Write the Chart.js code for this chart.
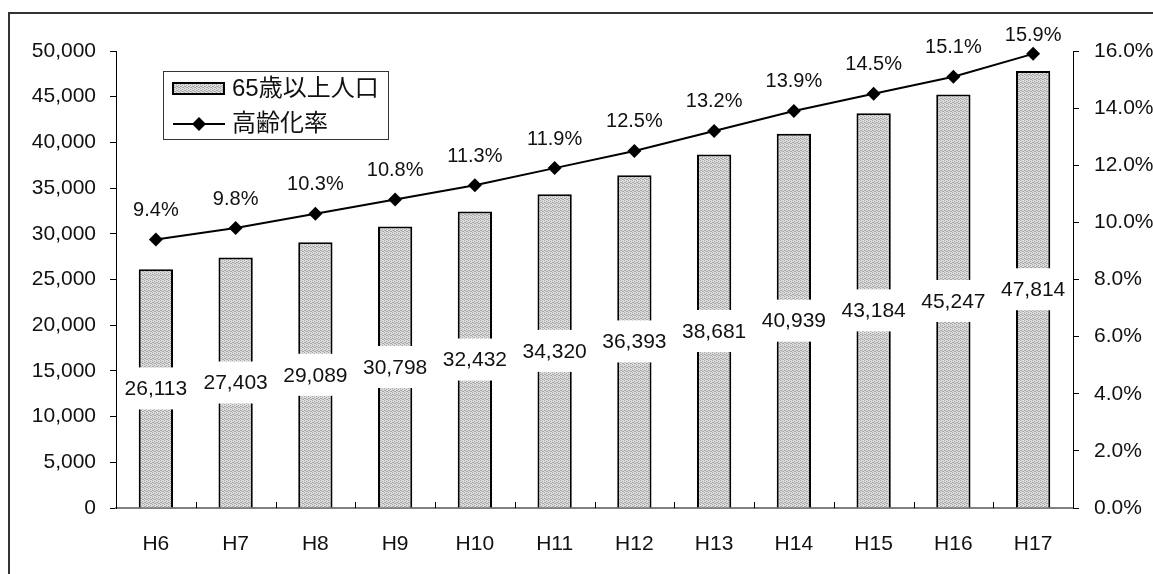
<!DOCTYPE html>
<html lang="ja">
<head>
    <meta charset="UTF-8">
    <title>高齢化率の推移</title>
    <script src="https://cdn.jsdelivr.net/npm/chart.js"></script>
    <style>
        body { margin: 0; background: #ffffff; }
        #wrap { position: relative; width: 1153px; height: 574px; }
        #frame { position: absolute; left: 8px; top: 12px; right: 0; bottom: 0; border-left: 2px solid #333; border-top: 2px solid #333; }
        canvas { position: absolute; left: 0; top: 0; }
    </style>
</head>
<body>
    <div id="wrap">
        <div id="frame"></div>
        <canvas id="chart" width="1153" height="574"></canvas>
    </div>

    <script>
        const years = ['H6', 'H7', 'H8', 'H9', 'H10', 'H11', 'H12', 'H13', 'H14', 'H15', 'H16', 'H17'];
        const population = [26113, 27403, 29089, 30798, 32432, 34320, 36393, 38681, 40939, 43184, 45247, 47814];
        const agingRate = [9.4, 9.8, 10.3, 10.8, 11.3, 11.9, 12.5, 13.2, 13.9, 14.5, 15.1, 15.9];
        const popLabel = '65歳以上人口';
        const rateLabel = '高齢化率';

        const font = '"Liberation Sans", Arial, sans-serif';
        const jpFont = '"Liberation Sans", "Noto Sans CJK JP", sans-serif';

        // dotted grey fill like the original bars
        const pc = document.createElement('canvas');
        pc.width = 4; pc.height = 4;
        const pctx = pc.getContext('2d');
        pctx.fillStyle = '#dcdcdc'; pctx.fillRect(0, 0, 4, 4);
        pctx.fillStyle = '#a8a8a8';
        [[0, 0], [2, 1], [1, 2], [3, 3], [2, 3], [0, 2]].forEach(p => pctx.fillRect(p[0], p[1], 1, 1));
        const ctx = document.getElementById('chart').getContext('2d');
        const barFill = ctx.createPattern(pc, 'repeat');

        const extras = {
            id: 'extras',
            afterDatasetsDraw(chart) {
                const c = chart.ctx;
                const x = chart.scales.x;
                const area = chart.chartArea;
                c.save();

                // inward ticks on the category axis
                c.strokeStyle = '#000'; c.lineWidth = 1;
                for (let i = 1; i < years.length; i++) {
                    const px = Math.round((x.getPixelForValue(i - 1) + x.getPixelForValue(i)) / 2) + 0.5;
                    c.beginPath(); c.moveTo(px, area.bottom); c.lineTo(px, area.bottom - 6); c.stroke();
                }

                // bar value labels on white boxes
                c.font = '21px ' + font;
                c.textAlign = 'center'; c.textBaseline = 'middle';
                chart.getDatasetMeta(0).data.forEach((bar, i) => {
                    const txt = population[i].toLocaleString('en-US');
                    const yMid = (bar.y + bar.base) / 2;
                    const w = c.measureText(txt).width + 8;
                    c.fillStyle = '#fff';
                    c.fillRect(bar.x - w / 2, yMid - 21, w, 42);
                    c.fillStyle = '#111';
                    c.fillText(txt, bar.x, yMid + 1);
                });

                // rate labels above points (kept inside the frame)
                c.font = '20px ' + font;
                chart.getDatasetMeta(1).data.forEach((pt, i) => {
                    c.fillStyle = '#111';
                    c.fillText(agingRate[i].toFixed(1) + '%', pt.x, Math.max(pt.y - 29, 35));
                });

                // legend box
                c.fillStyle = '#fff';
                c.fillRect(163, 71, 225, 68);
                c.strokeStyle = '#333'; c.lineWidth = 1;
                c.strokeRect(163.5, 71.5, 225, 68);
                c.fillStyle = barFill;
                c.fillRect(173, 83, 51, 11);
                c.strokeStyle = '#000'; c.lineWidth = 2;
                c.strokeRect(173, 83, 51, 11);
                c.lineWidth = 2;
                c.beginPath(); c.moveTo(173, 124); c.lineTo(225, 124); c.stroke();
                c.fillStyle = '#000';
                c.beginPath(); c.moveTo(199, 117); c.lineTo(206, 124); c.lineTo(199, 131); c.lineTo(192, 124); c.closePath(); c.fill();
                c.font = '24px ' + jpFont;
                c.textAlign = 'left';
                c.fillStyle = '#111';
                c.fillText(popLabel, 232, 89);
                c.fillText(rateLabel, 232, 124);
                c.restore();
            }
        };

        new Chart(ctx, {
            data: {
                labels: years,
                datasets: [
                    { type: 'bar', label: popLabel, data: population, yAxisID: 'y', order: 2,
                      backgroundColor: barFill, borderColor: '#000', borderWidth: 2,
                      categoryPercentage: 1, barPercentage: 0.43 },
                    { type: 'line', label: rateLabel, data: agingRate, yAxisID: 'y1', order: 1, clip: false,
                      borderColor: '#000', borderWidth: 2, backgroundColor: '#000',
                      pointStyle: 'rectRot', pointRadius: 7, pointBorderWidth: 0, tension: 0 }
                ]
            },
            plugins: [extras],
            options: {
                responsive: false,
                animation: false,
                layout: { padding: { top: 51, left: 0, right: 0, bottom: 0 } },
                plugins: { legend: { display: false }, tooltip: { enabled: false } },
                scales: {
                    x: {
                        grid: { display: false },
                        border: { color: '#808080', width: 2 },
                        ticks: { font: { family: font, size: 21 }, color: '#111', padding: 16 },
                        afterFit: s => { s.height = 66; }
                    },
                    y: {
                        position: 'left', min: 0, max: 50000,
                        grid: { drawOnChartArea: false, tickLength: 6, color: '#000' },
                        border: { color: '#000', width: 1 },
                        ticks: { stepSize: 5000, font: { family: font, size: 21 }, color: '#111', padding: 14,
                                 callback: v => v.toLocaleString('en-US') },
                        afterFit: s => { s.width = 116; }
                    },
                    y1: {
                        position: 'right', min: 0, max: 16,
                        grid: { drawOnChartArea: false, tickLength: 6, color: '#000' },
                        border: { color: '#000', width: 1 },
                        ticks: { stepSize: 2, font: { family: font, size: 21 }, color: '#111', padding: 15,
                                 callback: v => v.toFixed(1) + '%' },
                        afterFit: s => { s.width = 80; }
                    }
                }
            }
        });
    </script>
</body>
</html>
